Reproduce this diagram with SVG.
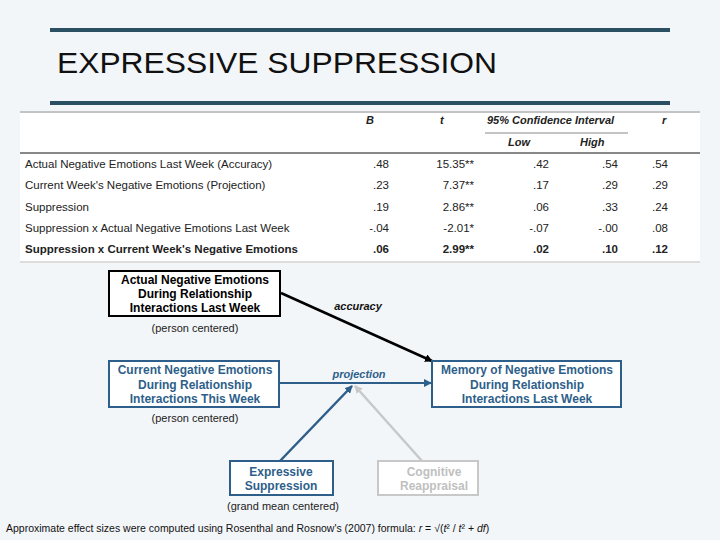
<svg xmlns="http://www.w3.org/2000/svg" width="720" height="540" viewBox="0 0 720 540">
<defs>
<style>
text{font-family:"Liberation Sans",Arial,sans-serif}
.tb{font-size:11.5px;fill:#222}
.tn{font-size:11.5px;fill:#222;text-anchor:end}
.bb{font-weight:bold}
.hd{font-size:11px;font-style:italic;font-weight:bold;fill:#222}
.nt{font-size:12px;font-weight:bold;text-anchor:middle}
.sm{font-size:11px;fill:#222;text-anchor:middle}
</style>
<marker id="ak" markerWidth="8" markerHeight="8" refX="7" refY="4" orient="auto" markerUnits="userSpaceOnUse"><path d="M0,0L8,4L0,8z" fill="#000"/></marker>
<marker id="ab" markerWidth="8" markerHeight="8" refX="7" refY="4" orient="auto" markerUnits="userSpaceOnUse"><path d="M0,0L8,4L0,8z" fill="#2e5f8a"/></marker>
<marker id="ag" markerWidth="8" markerHeight="8" refX="7" refY="4" orient="auto" markerUnits="userSpaceOnUse"><path d="M0,0L8,4L0,8z" fill="#c8c8c8"/></marker>
</defs>
<rect width="720" height="540" fill="#f3f6f9"/>
<rect x="50" y="28" width="620" height="4" fill="#2b4f63"/>
<rect x="50" y="101" width="620" height="4" fill="#2b4f63"/>
<text x="57" y="73" font-size="30" textLength="440" lengthAdjust="spacingAndGlyphs" fill="#111">EXPRESSIVE SUPPRESSION</text>
<g id="table">
<rect x="20" y="111" width="680" height="152" fill="#ffffff"/>
<line x1="20" y1="112" x2="700" y2="112" stroke="#888" stroke-width="1"/>
<line x1="485" y1="133" x2="628" y2="133" stroke="#888"/>
<line x1="20" y1="153" x2="700" y2="153" stroke="#888" stroke-width="2"/>
<line x1="20" y1="262" x2="700" y2="262" stroke="#bbb"/>
<text class="hd" x="366" y="124">B</text>
<text class="hd" x="440" y="124">t</text>
<text class="hd" x="487" y="124">95% Confidence Interval</text>
<text class="hd" x="662" y="124">r</text>
<text class="hd" x="508" y="146" font-weight="normal">Low</text>
<text class="hd" x="580" y="146" font-weight="normal">High</text>
<g class="tb">
<text class="tb" x="25" y="168">Actual Negative Emotions Last Week (Accuracy)</text>
<text class="tb" x="25" y="189">Current Week's Negative Emotions (Projection)</text>
<text class="tb" x="25" y="211">Suppression</text>
<text class="tb" x="25" y="232">Suppression x Actual Negative Emotions Last Week</text>
<text class="tb bb" x="25" y="253">Suppression x Current Week's Negative Emotions</text>
</g>
<g class="tn">
<text class="tn" x="389" y="168">.48</text><text class="tn" x="474" y="168">15.35**</text><text class="tn" x="549" y="168">.42</text><text class="tn" x="618" y="168">.54</text><text class="tn" x="668" y="168">.54</text>
<text class="tn" x="389" y="189">.23</text><text class="tn" x="474" y="189">7.37**</text><text class="tn" x="549" y="189">.17</text><text class="tn" x="618" y="189">.29</text><text class="tn" x="668" y="189">.29</text>
<text class="tn" x="389" y="211">.19</text><text class="tn" x="474" y="211">2.86**</text><text class="tn" x="549" y="211">.06</text><text class="tn" x="618" y="211">.33</text><text class="tn" x="668" y="211">.24</text>
<text class="tn" x="389" y="232">-.04</text><text class="tn" x="474" y="232">-2.01*</text><text class="tn" x="549" y="232">-.07</text><text class="tn" x="618" y="232">-.00</text><text class="tn" x="668" y="232">.08</text>
<text class="tn bb" x="389" y="253">.06</text><text class="tn bb" x="474" y="253">2.99**</text><text class="tn bb" x="549" y="253">.02</text><text class="tn bb" x="618" y="253">.10</text><text class="tn bb" x="668" y="253">.12</text>
</g>
</g>
<g id="connectors">
<line x1="281" y1="293" x2="432" y2="361" stroke="#000" stroke-width="2.5" marker-end="url(#ak)"/>
<line x1="279" y1="383" x2="431" y2="383" stroke="#2e5f8a" stroke-width="2" marker-end="url(#ab)"/>
<line x1="280" y1="461" x2="352" y2="386" stroke="#2e5f8a" stroke-width="2.5" marker-end="url(#ab)"/>
<line x1="422" y1="461" x2="355" y2="386" stroke="#c8c8c8" stroke-width="2.5" marker-end="url(#ag)"/>
<text x="358" y="310" font-size="11" font-style="italic" font-weight="bold" text-anchor="middle" fill="#111">accuracy</text>
<text x="359" y="378" font-size="11" font-style="italic" font-weight="bold" text-anchor="middle" fill="#2e5f8a">projection</text>
</g>
<g id="n-actual">
<rect x="109" y="271" width="171" height="45" fill="#fff" stroke="#000" stroke-width="2"/>
<text class="nt" x="195" y="284" fill="#000">Actual Negative Emotions</text>
<text class="nt" x="195" y="298" fill="#000">During Relationship</text>
<text class="nt" x="195" y="312" fill="#000">Interactions Last Week</text>
<text class="sm" x="195" y="332">(person centered)</text>
</g>
<g id="n-current">
<rect x="109" y="361" width="170" height="46" fill="#fff" stroke="#2e5f8a" stroke-width="2"/>
<text class="nt" x="195" y="374" fill="#2e5f8a">Current Negative Emotions</text>
<text class="nt" x="195" y="389" fill="#2e5f8a">During Relationship</text>
<text class="nt" x="195" y="403" fill="#2e5f8a">Interactions This Week</text>
<text class="sm" x="195" y="422">(person centered)</text>
</g>
<g id="n-memory">
<rect x="432" y="361" width="189" height="46" fill="#fff" stroke="#2e5f8a" stroke-width="2"/>
<text class="nt" x="527" y="374" fill="#2e5f8a">Memory of Negative Emotions</text>
<text class="nt" x="527" y="389" fill="#2e5f8a">During Relationship</text>
<text class="nt" x="527" y="403" fill="#2e5f8a">Interactions Last Week</text>
</g>
<g id="n-suppression">
<rect x="230" y="461" width="103" height="34" fill="#fff" stroke="#2e5f8a" stroke-width="2"/>
<text class="nt" x="281" y="476" fill="#2e5f8a">Expressive</text>
<text class="nt" x="281" y="490" fill="#2e5f8a">Suppression</text>
<text class="sm" x="283" y="510">(grand mean centered)</text>
</g>
<g id="n-reappraisal">
<rect x="378" y="461" width="100" height="34" fill="#fff" stroke="#c8c8c8" stroke-width="2"/>
<text class="nt" x="434" y="476" fill="#c0c0c0">Cognitive</text>
<text class="nt" x="434" y="490" fill="#c0c0c0">Reappraisal</text>
</g>
<text x="6" y="532" font-size="10.5" fill="#111">Approximate effect sizes were computed using Rosenthal and Rosnow's (2007) formula: <tspan font-style="italic">r</tspan> = √(<tspan font-style="italic">t</tspan>² / <tspan font-style="italic">t</tspan>² + <tspan font-style="italic">df</tspan>)</text>
</svg>
